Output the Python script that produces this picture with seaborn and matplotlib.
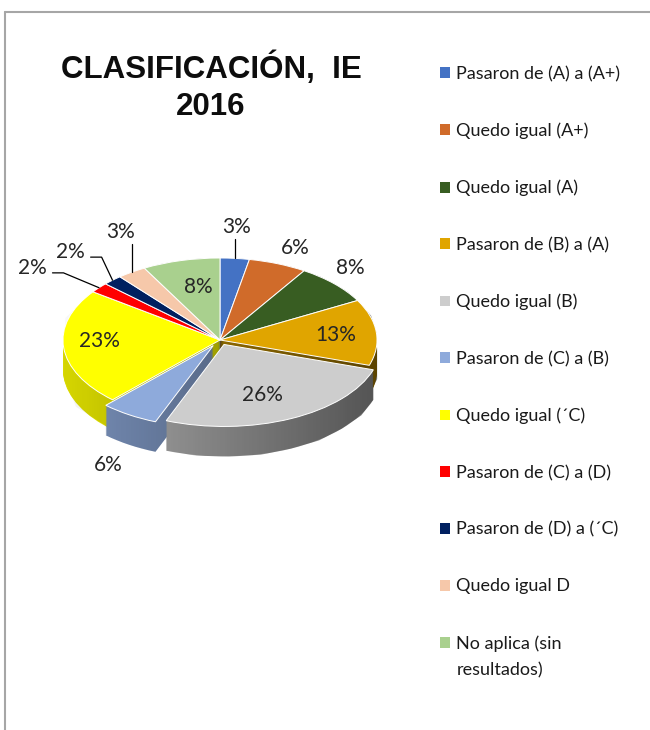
import numpy as np
import matplotlib
matplotlib.use("Agg")
import matplotlib.pyplot as plt
import seaborn as sns
from matplotlib.patches import Patch
from matplotlib.lines import Line2D
from matplotlib.path import Path
from matplotlib.colors import to_rgb

# ---------------- data ----------------
categories = [
    "Pasaron de (A) a (A+)",
    "Quedo igual (A+)",
    "Quedo igual (A)",
    "Pasaron de (B) a (A)",
    "Quedo igual (B)",
    "Pasaron de (C) a (B)",
    "Quedo igual (´C)",
    "Pasaron de (C) a (D)",
    "Pasaron de (D) a (´C)",
    "Quedo igual D",
    "No aplica (sin\nresultados)",
]
values = [3, 6, 8, 13, 26, 6, 23, 2, 2, 3, 8]
title_text = "CLASIFICACIÓN,  IE\n2016"

# ---------------- styles / layout ----------------
colors = ["#4472c4", "#d06b2a", "#385d22", "#e0a500", "#cdcdcd", "#8eaadb",
          "#ffff00", "#ff0000", "#002060", "#f6c8aa", "#a9d08e"]
explode = [0, 0, 0, 0, 0.06, 0.08, 0, 0, 0, 0, 0]
label_rx = [1.15, 1.30, 1.14, 0.74, 0.57, 1.25, 0.77, 1.55, 1.39, 1.13, 0.56]
label_ry = [1.38, 1.21, 1.28, 0.65, 0.68, 1.29, 0.13, 1.38, 1.47, 1.59, 0.67]
leader = ["v", None, None, None, None, None, None, "h", "h", "v", None]

sns.set_theme(style="white")
plt.rcParams["font.family"] = ["Lato", "DejaVu Sans"]

W, H = 650, 730
CX, CY = 220, 340      # pie centre (px)
RX, RY = 157, 82       # ellipse radii (px)
DEPTH = 30             # 3D thickness (px)
LEG_FS = 13

fig = plt.figure(figsize=(W / 100, H / 100), dpi=100)
fig.patch.set_facecolor("white")
ax = fig.add_axes([0, 0, 1, 1])


def P(px, py):
    return ((px - CX) / RX, -(py - CY) / RY)


def shade(c, f):
    r, g, b = to_rgb(c)
    return (min(r * f, 1), min(g * f, 1), min(b * f, 1))


def convex_hull(pts):
    pts = sorted(set((round(float(x), 6), round(float(y), 6)) for x, y in pts))
    if len(pts) < 3:
        return pts

    def cross(o, a, b):
        return (a[0] - o[0]) * (b[1] - o[1]) - (a[1] - o[1]) * (b[0] - o[0])
    lower, upper = [], []
    for p in pts:
        while len(lower) >= 2 and cross(lower[-2], lower[-1], p) <= 0:
            lower.pop()
        lower.append(p)
    for p in reversed(pts):
        while len(upper) >= 2 and cross(upper[-2], upper[-1], p) <= 0:
            upper.pop()
        upper.append(p)
    return lower[:-1] + upper[:-1]


total = float(sum(values))
cum = np.cumsum([0] + values[:-1])
mid = np.deg2rad((cum + np.array(values) / 2.0) / total * 360.0)  # clockwise from top

side_colors = [shade(c, 0.86) for c in colors]

# side layers (3D thickness)
bottom_wedges = None
for k in range(DEPTH, 0, -1):
    wedges, _ = ax.pie(values, colors=side_colors, center=(0, -k / RY), radius=1.0,
                       startangle=90, counterclock=False, explode=explode,
                       wedgeprops=dict(linewidth=0), frame=True)
    for w in wedges:
        w.set_zorder(1)
    if bottom_wedges is None:
        bottom_wedges = wedges

# top face
top_wedges, _ = ax.pie(values, colors=colors, center=(0, 0), radius=1.0,
                       startangle=90, counterclock=False, explode=explode,
                       wedgeprops=dict(linewidth=0.7, edgecolor="white"), frame=True)
for w in top_wedges:
    w.set_zorder(3)

# horizontal light-to-dark gradient on the sides
verts, codes = [], []
for wt, wb in zip(top_wedges, bottom_wedges):
    pts = np.vstack([np.vstack(wt.get_path().to_polygons()),
                     np.vstack(wb.get_path().to_polygons())])
    hull = convex_hull(pts)
    verts += hull + [hull[0]]
    codes += [Path.MOVETO] + [Path.LINETO] * (len(hull) - 1) + [Path.CLOSEPOLY]
clip = Path(verts, codes)
grad = np.zeros((2, 256, 4))
grad[..., 3] = np.linspace(0.0, 0.55, 256)[None, :]
im = ax.imshow(grad, extent=(-1.1, 1.1, -1.6, 1.2), aspect="auto", zorder=2,
               interpolation="bilinear")
im.set_clip_path(clip, transform=ax.transData)

# percentage labels
for i, v in enumerate(values):
    s, c = np.sin(mid[i]), np.cos(mid[i])
    lx = s * (label_rx[i] + explode[i])
    ly = c * (label_ry[i] + explode[i])
    if label_ry[i] > 1 and c < 0:
        ly -= DEPTH / RY
    ax.text(lx, ly, f"{v}%", ha="center", va="center", fontsize=15,
            color="#262626", zorder=5)
    ex, ey = s, c
    if leader[i] == "v":
        ax.add_line(Line2D([ex, ex], [ly - 12 / RY, ey], color="black", lw=0.9,
                           zorder=4))
    elif leader[i] == "h":
        sx, sy = lx + 20 / RX, ly - 5 / RY
        ax.add_line(Line2D([sx, sx + 11 / RX, ex], [sy, sy, ey],
                           color="black", lw=0.9, zorder=4))

x0, y0 = P(0, H)
x1, y1 = P(W, 0)
ax.set_xlim(x0, x1)
ax.set_ylim(y0, y1)
ax.set_aspect("auto")
ax.axis("off")

# title
fig.text(211 / W, 1 - 87 / H, title_text, ha="center", va="center",
         fontsize=22.5, fontweight="bold", linespacing=1.3, color="#0d0d0d",
         family=["Liberation Sans", "DejaVu Sans"])

# legend (first line of wrapped labels in the legend, continuation below)
leg_labels = [l.split("\n")[0] for l in categories]
handles = [Patch(facecolor=c, edgecolor="none", label=l)
           for c, l in zip(colors, leg_labels)]
leg = fig.legend(handles=handles, loc="upper left",
                 bbox_to_anchor=(440 / W, 1 - 66 / H), frameon=False,
                 handlelength=0.55, handleheight=0.55, handletextpad=0.35,
                 labelspacing=2.25, fontsize=LEG_FS, borderaxespad=0, borderpad=0,
                 labelcolor="#1a1a1a")

for t, full in zip(leg.get_texts(), categories):
    extra = full.split("\n")[1:]
    if extra:
        fig.add_artist(matplotlib.text.Annotation(
            "\n".join(extra), xy=(0, 0), xycoords=t,
            xytext=(0, -8), textcoords="offset points",
            ha="left", va="top", fontsize=LEG_FS, color="#1a1a1a", zorder=10))

# chart-area frame (left and top edges visible)
fig.add_artist(Line2D([5 / W, 5 / W], [0, 1 - 12 / H], transform=fig.transFigure,
                      color="#a6a6a6", lw=1.5))
fig.add_artist(Line2D([5 / W, 1], [1 - 12 / H, 1 - 12 / H], transform=fig.transFigure,
                      color="#a6a6a6", lw=1.5))

fig.savefig("out.png", dpi=100, facecolor="white")
